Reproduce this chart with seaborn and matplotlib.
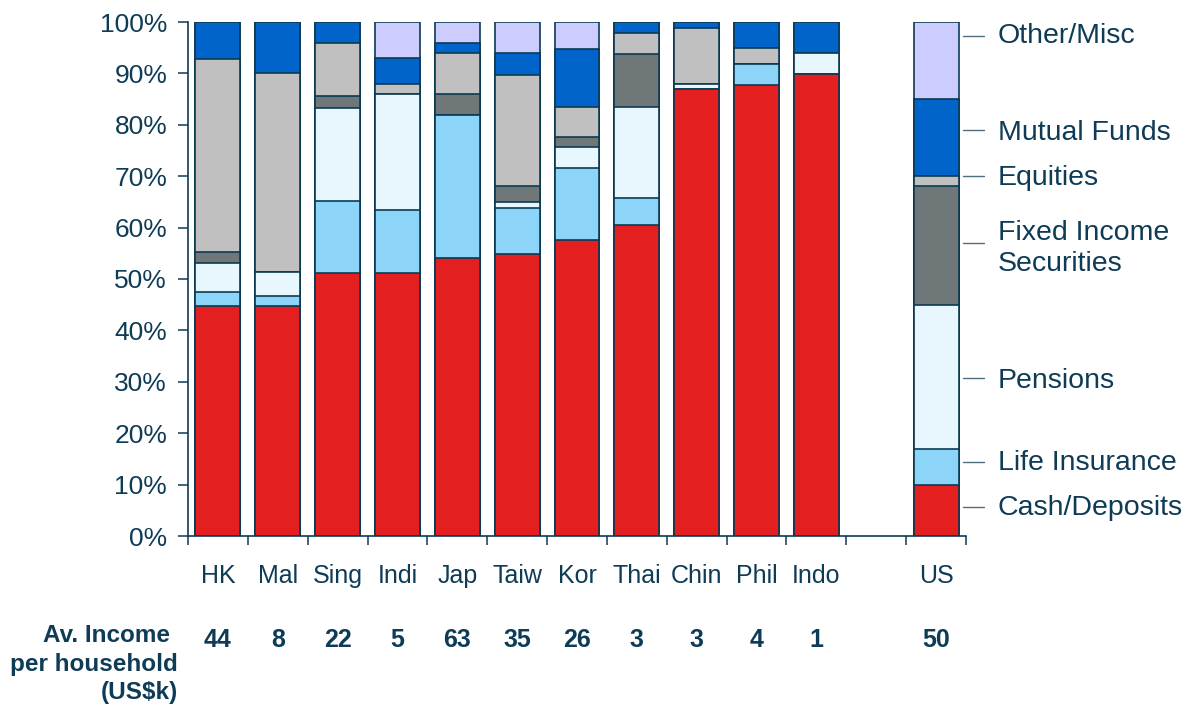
import numpy as np
import pandas as pd
import matplotlib
matplotlib.use("Agg")
import matplotlib.pyplot as plt
from matplotlib import font_manager
import seaborn as sns

# Household financial asset mix by market (% of total)
countries = ["HK", "Mal", "Sing", "Indi", "Jap", "Taiw", "Kor", "Thai", "Chin", "Phil", "Indo", "US"]
cash_deposits = [44.7, 44.7, 51.2, 51.2, 54.0, 54.8, 57.6, 60.6, 87.0, 87.7, 89.8, 10.0]
life_insurance = [2.7, 2.0, 14.0, 12.2, 27.9, 9.0, 13.9, 5.1, 0.0, 4.1, 0.0, 7.0]
pensions = [5.8, 4.6, 18.0, 22.5, 0.0, 1.1, 4.2, 17.8, 0.9, 0.0, 4.1, 28.0]
fixed_income = [2.0, 0.0, 2.4, 0.0, 4.0, 3.1, 1.9, 10.2, 0.0, 0.0, 0.0, 23.0]
equities = [37.6, 38.8, 10.4, 2.0, 8.0, 21.7, 5.8, 4.2, 10.9, 3.1, 0.0, 2.0]
mutual_funds = [7.2, 9.9, 4.0, 5.0, 2.1, 4.3, 11.4, 2.1, 1.2, 5.1, 6.1, 15.0]
other_misc = [0.0, 0.0, 0.0, 7.1, 4.0, 6.0, 5.2, 0.0, 0.0, 0.0, 0.0, 15.0]

# Average income per household, US$k
avg_income = [44, 8, 22, 5, 63, 35, 26, 3, 3, 4, 1, 50]

y_ticks = [0, 10, 20, 30, 40, 50, 60, 70, 80, 90, 100]
y_tick_labels = [f"{v}%" for v in y_ticks]

series_names = ["Cash/Deposits", "Life Insurance", "Pensions", "Fixed Income\nSecurities",
                "Equities", "Mutual Funds", "Other/Misc"]
series_values = [cash_deposits, life_insurance, pensions, fixed_income,
                 equities, mutual_funds, other_misc]
series_colors = ["#E31F20", "#8DD5F8", "#E8F6FE", "#6F7778", "#C0C0C0", "#0064CB", "#CCCCFF"]
# vertical placement (in % units) of each side label and its leader dash
label_text_y = [5.4, 14.2, 30.2, 55.9, 69.6, 78.4, 97.3]
label_dash_y = [5.6, 14.4, 30.7, 57.0, 70.0, 79.0, 97.3]

TEXT = "#0E3B56"
EDGE = "#0B3A52"

sns.set_theme(style="white")
plt.rcParams["font.family"] = ["Liberation Sans", "DejaVu Sans"]
plt.rcParams["text.color"] = TEXT

installed = {f.name for f in font_manager.fontManager.ttflist}
if "Liberation Sans Narrow" in installed:
    cat_family, cat_size = ["Liberation Sans Narrow", "Liberation Sans"], 20.5
else:
    cat_family, cat_size = ["Liberation Sans", "DejaVu Sans"], 18

# slot order with an empty gap before the US bar
order = countries[:-1] + [" "] + countries[-1:]

df = pd.DataFrame({"country": countries})
cum = np.cumsum(np.array(series_values), axis=0)
for i, name in enumerate(series_names):
    df[f"top{i}"] = cum[i]

fig = plt.figure(figsize=(11.88, 7.06), dpi=100)
ax = fig.add_axes([188 / 1188, 1 - 536 / 706, 778 / 1188, 514 / 706])

# stacked bars: draw cumulative totals from the top series down
for i in reversed(range(len(series_names))):
    sns.barplot(data=df, x="country", y=f"top{i}", order=order, color=series_colors[i],
                saturation=1, width=0.75, edgecolor=EDGE, linewidth=1.2,
                errorbar=None, ax=ax)

ax.set_xlim(-0.5, len(order) - 0.5)
ax.set_ylim(0, 100)
ax.set_xlabel("")
ax.set_ylabel("")

ax.set_yticks(y_ticks)
ax.set_yticklabels(y_tick_labels, fontsize=19, color=TEXT)
ax.tick_params(axis="y", direction="out", length=7, width=1.1, color=TEXT, pad=8, left=True)

# x ticks sit between the slots; category names sit on minor ticks at slot centres
ax.set_xticks(np.arange(-0.5, len(order), 1.0))
ax.set_xticklabels([""] * (len(order) + 1))
ax.tick_params(axis="x", which="major", direction="out", length=6.5, width=1.1, color=TEXT, bottom=True)
ax.set_xticks(np.arange(len(order)), minor=True)
ax.set_xticklabels(order, minor=True, fontsize=cat_size, color=TEXT, family=cat_family)
ax.tick_params(axis="x", which="minor", length=0, pad=20)

for side in ["top", "right"]:
    ax.spines[side].set_visible(False)
for side in ["left", "bottom"]:
    ax.spines[side].set_color(TEXT)
    ax.spines[side].set_linewidth(1.2)
ax.grid(False)

# side labels next to the US bar
us_pos = order.index("US")
for name, ty, dy in zip(series_names, label_text_y, label_dash_y):
    ax.plot([us_pos + 0.45, us_pos + 0.8], [dy, dy], color="#4F6E80", lw=1.0, clip_on=False)
    ax.text(us_pos + 1.03, ty, name, fontsize=20.5, color=TEXT, ha="left", va="center",
            linespacing=1.25, clip_on=False)

# income row under the bars
fig.text(170 / 1188, 1 - 636 / 706, "Av. Income", fontsize=17.5, fontweight="bold",
         color=TEXT, ha="right", va="center")
fig.text(178 / 1188, 1 - 665 / 706, "per household", fontsize=17.5, fontweight="bold",
         color=TEXT, ha="right", va="center")
fig.text(178 / 1188, 1 - 692 / 706, "(US$k)", fontsize=17.5, fontweight="bold",
         color=TEXT, ha="right", va="center")
for c, inc in zip(countries, avg_income):
    xpix = ax.transData.transform((order.index(c), 0))[0]
    fig.text(xpix / 1188, 1 - 640 / 706, str(inc), fontsize=18, fontweight="bold",
             color=TEXT, ha="center", va="center")

fig.savefig("out.png", dpi=100, facecolor="white")
